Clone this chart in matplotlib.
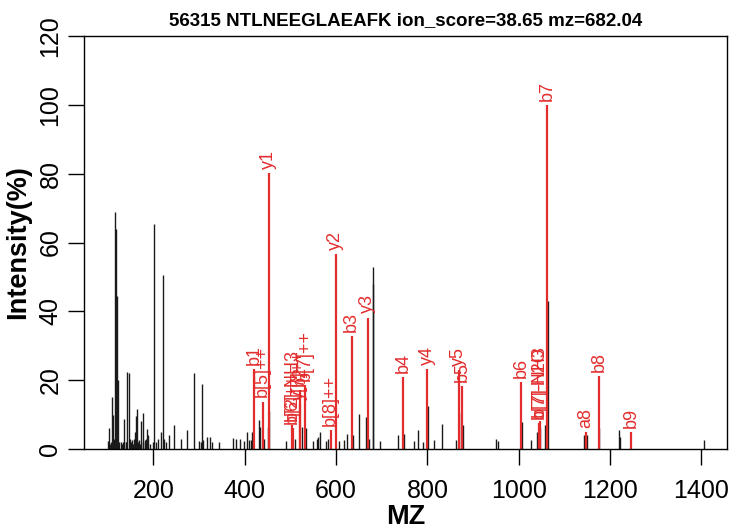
import numpy as np
import matplotlib
matplotlib.use("Agg")
import matplotlib.pyplot as plt

plt.rcParams['font.family'] = ['Liberation Sans', 'DejaVu Sans']

title = "56315 NTLNEEGLAEAFK ion_score=38.65 mz=682.04"

# unmatched peaks (black)
bg_mz = [100, 103, 105, 108, 110, 112.4, 113.5, 115.3, 117, 118.2, 119.7, 121.9,
         123.5, 125.5, 129, 131, 134, 136.5, 139.4, 141, 143, 146, 148, 150,
         152.5, 155, 157.7, 160, 162, 164, 166, 169, 171, 173, 176.6, 178,
         181.7, 184, 186.9, 189, 192, 198, 202, 205, 211, 216, 220.5, 224, 227,
         233.6, 244.5, 260.6, 273.7, 289, 300.7, 303.6, 305.8, 309.4, 316.8,
         324, 329, 344.5, 373.7, 380, 389.7, 398.5, 404.3, 409.5, 413, 416.7,
         430.6, 434.3, 443, 450.3, 454, 490.5, 510, 525, 534.3, 548.8, 557.5,
         561, 565, 578, 583, 606.5, 618, 623.3, 637.9, 650.3, 665.6, 673, 680,
         681.6, 695.6, 736.4, 749.6, 770.7, 780.3, 789.8, 800.7, 814.5, 832,
         862.7, 873, 878.7, 951, 954.6, 1008, 1027.6, 1039.3, 1047.3, 1056.8,
         1064.2, 1142.3, 1148.7, 1176.5, 1219.5, 1221.5, 1406]
bg_int = [2.3, 6, 1.5, 2, 15, 10, 3, 69, 2.5, 64, 44.5, 20,
          2, 2, 2, 1.5, 2, 8.7, 2, 2, 22.5, 22, 3, 2,
          2.5, 1.5, 3, 5, 9.5, 11.5, 2, 2.5, 1.5, 8, 10.5, 2,
          2.5, 3, 5.7, 4, 1.5, 2, 65.5, 2, 3, 4.8, 50.5, 3, 2,
          4, 7, 3, 5.5, 22, 2.3, 2, 19, 2.5, 3.5,
          3.5, 2, 2, 3.2, 3, 3, 2.3, 5, 2.5, 2.5, 5,
          8.5, 6.5, 3, 6.5, 11, 2.3, 2.8, 6.5, 6, 2.3, 2.8,
          3.5, 5, 2.3, 3, 2.3, 2.7, 4.5, 4, 10.3, 9.4, 3, 48,
          53, 2.4, 4, 4.4, 2.4, 5.5, 2, 12.5, 2.5, 7.2,
          2.5, 10.5, 7, 3, 2.3, 7.7, 2.6, 5, 6.5, 7,
          43, 4, 4, 6, 5.4, 3.5, 2.6]

# matched fragment ions (red)
ion_mz = [420.4, 439.4, 452.3, 503.6, 505.0, 520.8, 521.5, 532.2, 588.3, 599.3,
          634.2, 669.3, 747.6, 799.2, 868.4, 876.2, 1005.8, 1044.4, 1045.6,
          1062.3, 1147.4, 1175.5, 1246.2]
ion_int = [23.3, 13.8, 80.2, 7, 6, 13, 17, 18.5, 5.5, 56.6,
           32.9, 38.2, 21, 23.2, 23, 18.4, 19.4, 7.6, 8.2,
           100, 4.9, 21.3, 5]
ion_lab = ["b1", "b[5]++", "y1", "b[2]-NH3", "b[6]++", "y[7]++", "b2", "b[7]++",
           "b[8]++", "y2", "b3", "y3", "b4", "y4", "y5", "b5", "b6", "b[7]-H2O",
           "b[7]-NH3", "b7", "a8", "b8", "b9"]

red = '#e32d2d'

fig = plt.figure(figsize=(7.29, 5.29), dpi=100)
ax = fig.add_axes([84/729, 80/529, 643/729, 413/529])

ax.vlines(bg_mz, 0, bg_int, color='#1a1a1a', lw=1.0)
ax.vlines(ion_mz, 0, ion_int, color=red, lw=1.6)
for x, y, s in zip(ion_mz, ion_int, ion_lab):
    ax.annotate(s, (x, y), xytext=(0, 3), textcoords='offset points',
                rotation=90, ha='center', va='bottom', color=red, fontsize=13)

ax.set_xlim(48, 1456)
ax.set_ylim(0, 120)
ax.set_xticks([200, 400, 600, 800, 1000, 1200, 1400])
ax.set_yticks([0, 20, 40, 60, 80, 100, 120])
ax.tick_params(axis='both', direction='out', length=11.5, width=1.0, labelsize=18)
ax.tick_params(axis='x', pad=10)
ax.tick_params(axis='y', pad=4)
for lab in ax.get_yticklabels():
    lab.set_rotation(90)
    lab.set_va('center')
for sp in ax.spines.values():
    sp.set_linewidth(1.0)

ax.set_xlabel("MZ", fontsize=19.5, fontweight='bold', labelpad=1)
ax.set_ylabel("Intensity(%)", fontsize=19.5, fontweight='bold', labelpad=5)
ax.set_title(title, fontsize=13.5, fontweight='bold', pad=8)

fig.savefig("out.png", dpi=100)
